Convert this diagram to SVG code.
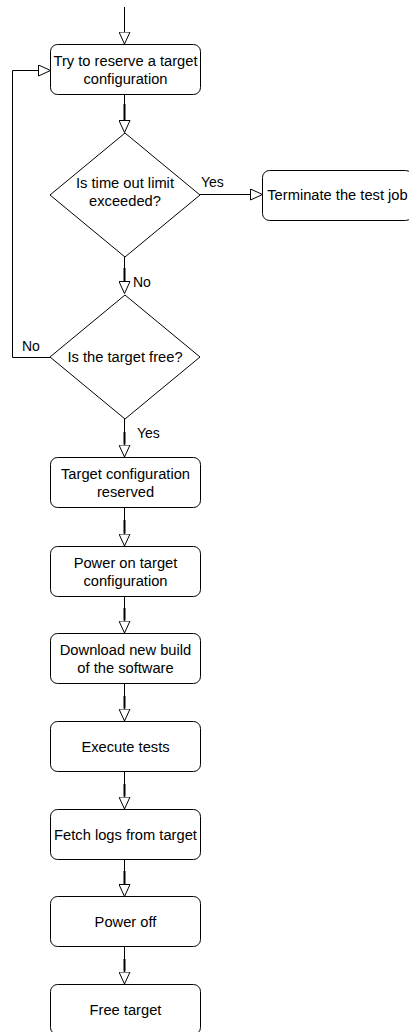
<svg xmlns="http://www.w3.org/2000/svg" width="409" height="1032" viewBox="0 0 409 1032">
  <style>
    .shape { fill: #ffffff; stroke: #000000; stroke-width: 1; }
    .label { font-family: "Liberation Sans", Arial, Helvetica, sans-serif; font-size: 14.7px; fill: #000000; text-anchor: middle; }
    .edge-label { font-family: "Liberation Sans", Arial, Helvetica, sans-serif; font-size: 14px; fill: #000000; }
    .edge { fill: none; stroke: #000000; stroke-width: 1; }
    .edge-tail { fill: none; stroke: #000000; stroke-width: 2; }
  </style>
  <defs>
    <marker id="open-block" viewBox="0 0 13 12" refX="12.5" refY="6" markerWidth="13" markerHeight="12" markerUnits="userSpaceOnUse" orient="auto">
      <path d="M0.5,0.5 L12.5,6 L0.5,11.5 Z" fill="#ffffff" stroke="#000000" stroke-width="1"/>
    </marker>
  </defs>
  <rect width="409" height="1032" fill="#ffffff"/>

  <g id="connectors">
    <path class="edge" d="M124.5,7 V44" marker-end="url(#open-block)"/>
    <path class="edge" d="M124.5,94.5 V132.5" marker-end="url(#open-block)"/>
    <path class="edge-tail" d="M124.5,104 V120"/>
    <path class="edge" d="M200,194.5 H262.5" marker-end="url(#open-block)"/>
    <path class="edge" d="M124.5,257 V293.5" marker-end="url(#open-block)"/>
    <path class="edge-tail" d="M124.5,268 V281"/>
    <path class="edge" d="M50,357.5 H12.5 V70.5 H50.5" marker-end="url(#open-block)"/>
    <path class="edge" d="M124.5,418.5 V457" marker-end="url(#open-block)"/>
    <path class="edge-tail" d="M124.5,432 V444.5"/>
    <path class="edge" d="M124.5,507.5 V546" marker-end="url(#open-block)"/>
    <path class="edge-tail" d="M124.5,520 V533.5"/>
    <path class="edge" d="M124.5,596.5 V633" marker-end="url(#open-block)"/>
    <path class="edge-tail" d="M124.5,608 V620.5"/>
    <path class="edge" d="M124.5,683.5 V721" marker-end="url(#open-block)"/>
    <path class="edge-tail" d="M124.5,696 V708.5"/>
    <path class="edge" d="M124.5,771.5 V809" marker-end="url(#open-block)"/>
    <path class="edge-tail" d="M124.5,784 V796.5"/>
    <path class="edge" d="M124.5,859.5 V896.5" marker-end="url(#open-block)"/>
    <path class="edge-tail" d="M124.5,871 V884"/>
    <path class="edge" d="M124.5,946.5 V984" marker-end="url(#open-block)"/>
    <path class="edge-tail" d="M124.5,959 V971.5"/>

    <text class="edge-label" x="201" y="187">Yes</text>
    <text class="edge-label" x="133" y="287">No</text>
    <text class="edge-label" x="22" y="351">No</text>
    <text class="edge-label" x="137" y="438">Yes</text>
  </g>

  <g id="reserve">
    <rect class="shape" x="50.5" y="44.5" width="150" height="50" rx="7" ry="7"/>
    <text class="label" x="125.5" y="66">Try to reserve a target</text>
    <text class="label" x="125.5" y="84">configuration</text>
  </g>

  <g id="timeout-check">
    <path class="shape" d="M125,133 L200,195 L125,257 L50,195 Z"/>
    <text class="label" x="125" y="188">Is time out limit</text>
    <text class="label" x="125" y="206">exceeded?</text>
  </g>

  <g id="terminate">
    <rect class="shape" x="262.5" y="170.5" width="150" height="50" rx="7" ry="7"/>
    <text class="label" x="337.5" y="200">Terminate the test job</text>
  </g>

  <g id="target-free-check">
    <path class="shape" d="M125,295 L200,357 L125,419 L50,357 Z"/>
    <text class="label" x="125" y="362">Is the target free?</text>
  </g>

  <g id="reserved">
    <rect class="shape" x="50.5" y="457.5" width="150" height="50" rx="7" ry="7"/>
    <text class="label" x="125.5" y="479">Target configuration</text>
    <text class="label" x="125.5" y="497">reserved</text>
  </g>

  <g id="power-on">
    <rect class="shape" x="50.5" y="546.5" width="150" height="50" rx="7" ry="7"/>
    <text class="label" x="125.5" y="568">Power on target</text>
    <text class="label" x="125.5" y="586">configuration</text>
  </g>

  <g id="download">
    <rect class="shape" x="50.5" y="633.5" width="150" height="50" rx="7" ry="7"/>
    <text class="label" x="125.5" y="655">Download new build</text>
    <text class="label" x="125.5" y="673">of the software</text>
  </g>

  <g id="execute">
    <rect class="shape" x="50.5" y="721.5" width="150" height="50" rx="7" ry="7"/>
    <text class="label" x="125.5" y="751.5">Execute tests</text>
  </g>

  <g id="fetch-logs">
    <rect class="shape" x="50.5" y="809.5" width="150" height="50" rx="7" ry="7"/>
    <text class="label" x="125.5" y="839.5">Fetch logs from target</text>
  </g>

  <g id="power-off">
    <rect class="shape" x="50.5" y="896.5" width="150" height="50" rx="7" ry="7"/>
    <text class="label" x="125.5" y="926.5">Power off</text>
  </g>

  <g id="free-target">
    <rect class="shape" x="50.5" y="984.5" width="150" height="50" rx="7" ry="7"/>
    <text class="label" x="125.5" y="1014.5">Free target</text>
  </g>
</svg>
